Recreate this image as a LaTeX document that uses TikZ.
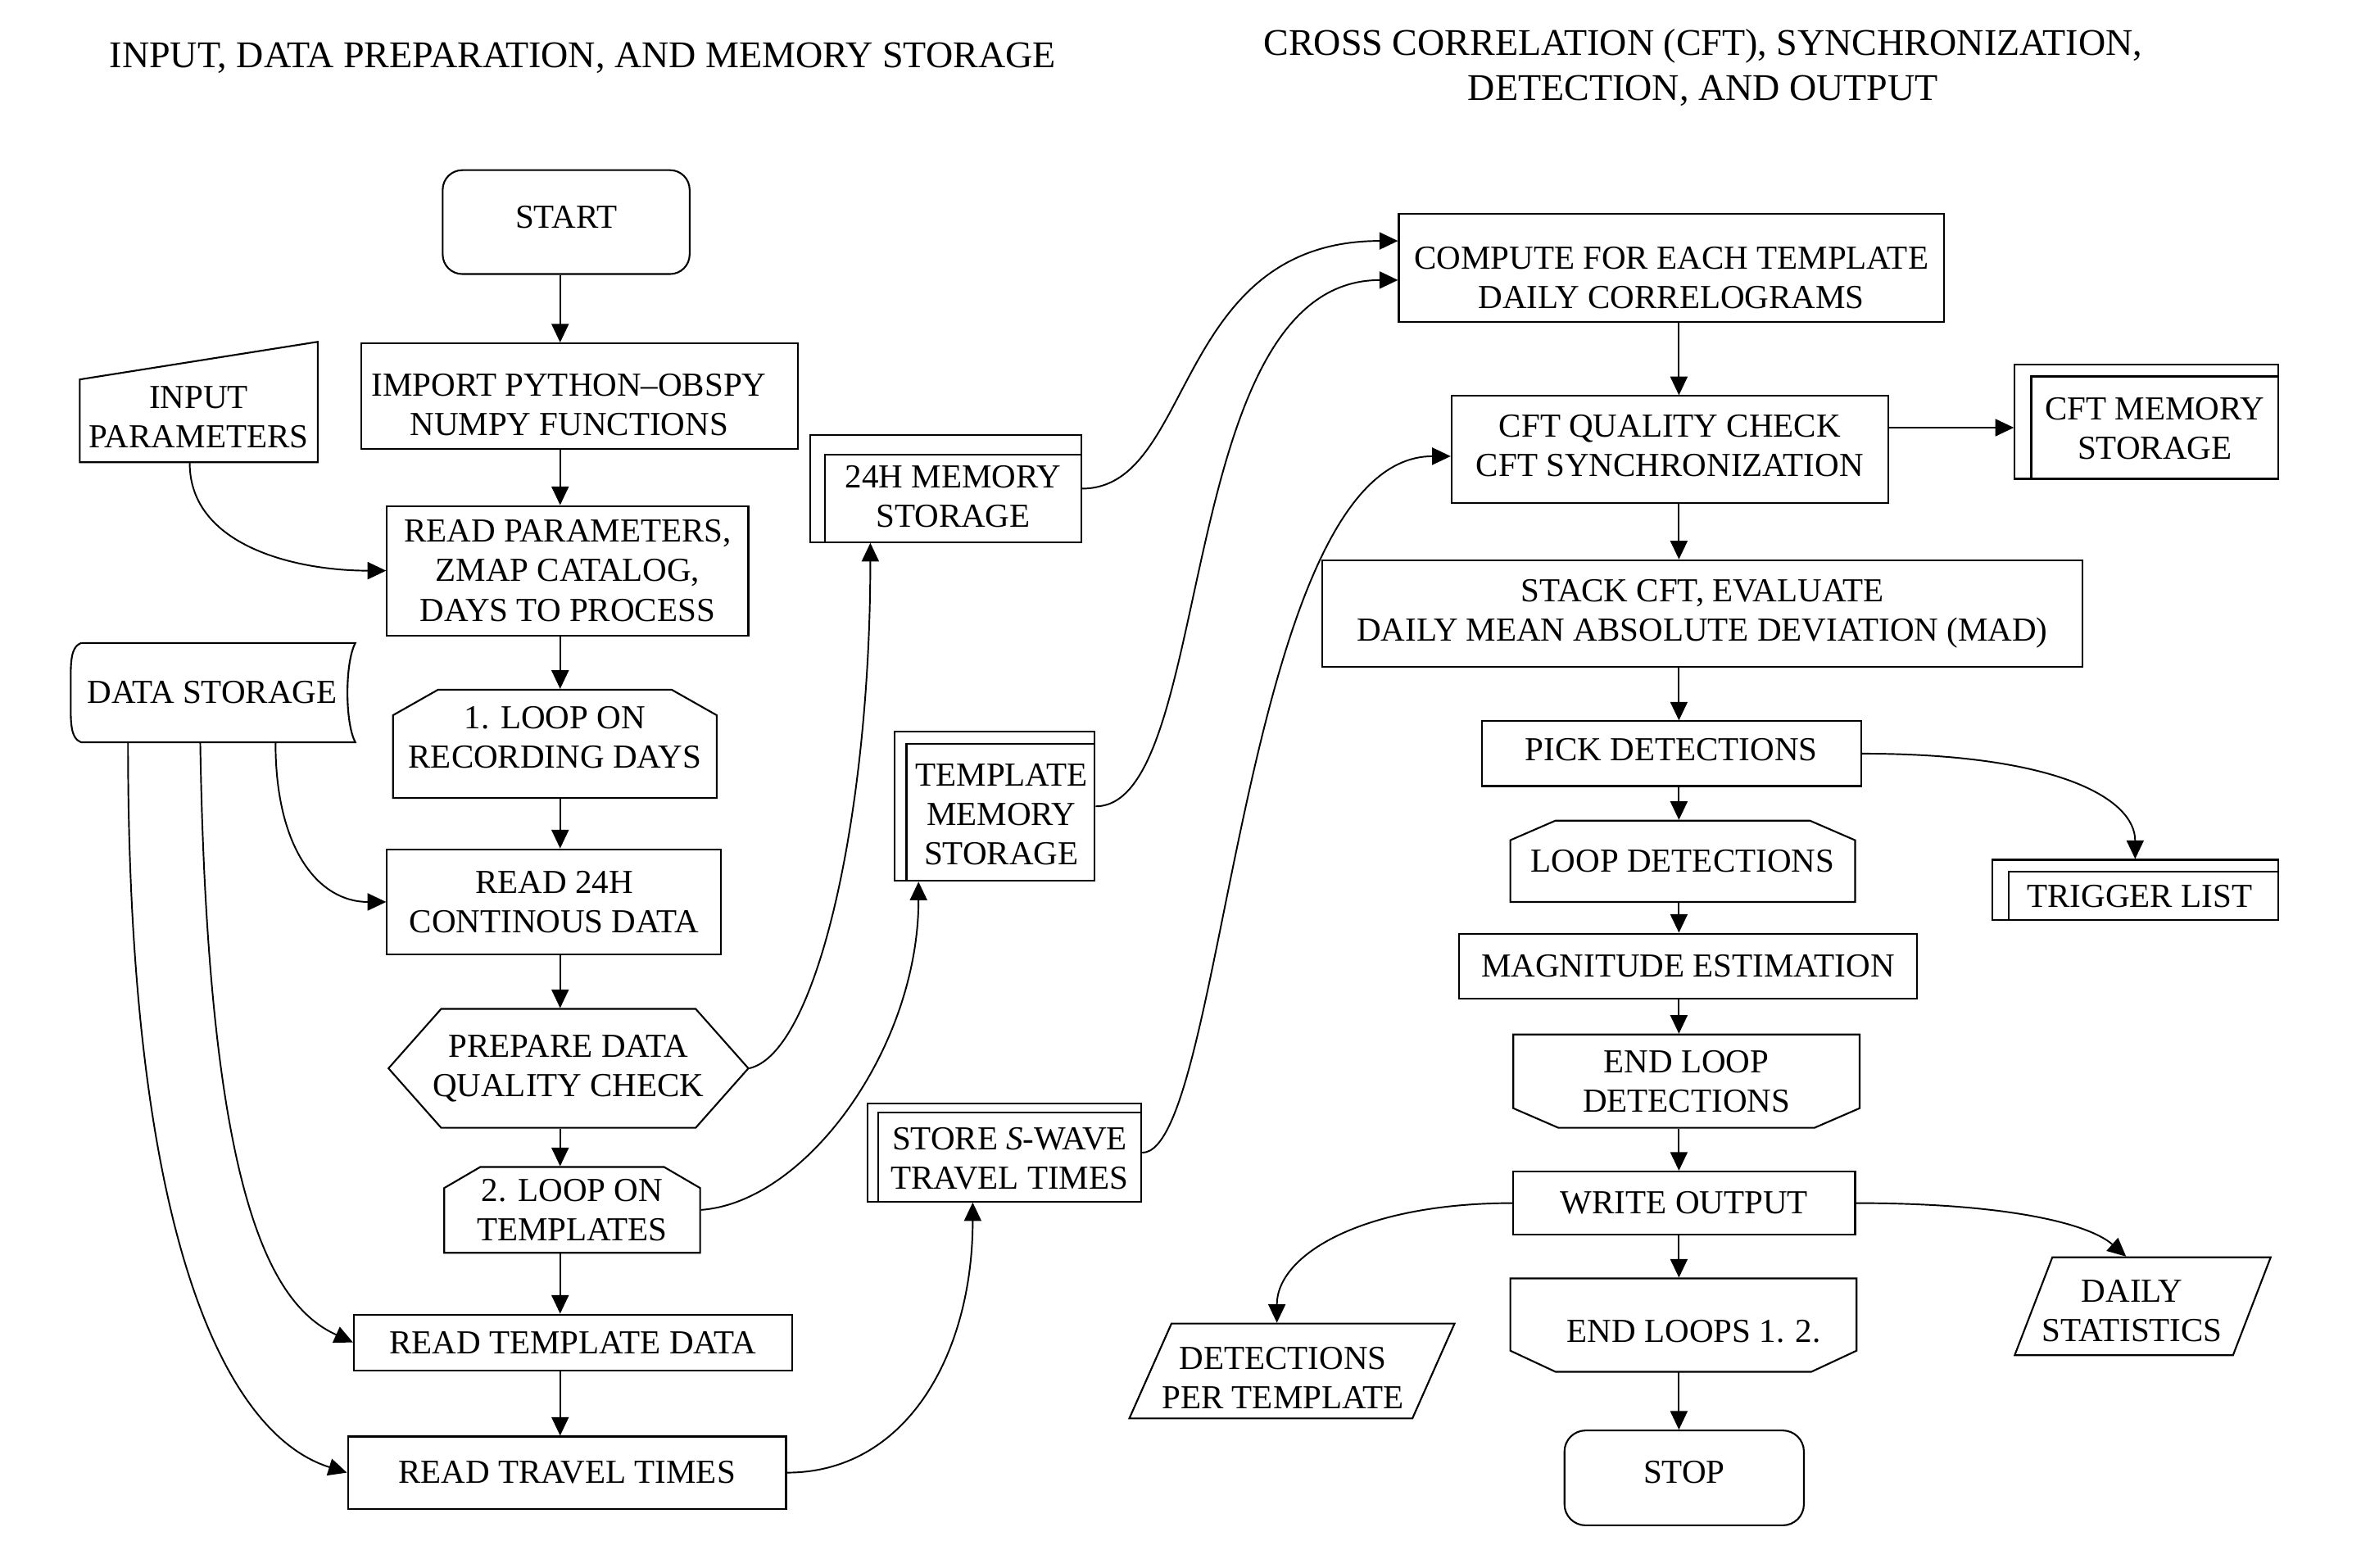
\documentclass[tikz,border=0pt]{standalone}
\usepackage{fontspec}
\setmainfont{Liberation Serif}
\usetikzlibrary{arrows.meta,calc}
\newcommand{\dd}[1]{#1*0.02cm}
\begin{document}
\begin{tikzpicture}[x=0.02cm,y=-0.02cm, line width=0.6pt,
  lbl/.style={align=center, inner sep=0pt, font=\fontsize{12.7}{14.9}\selectfont},
  bx/.style={lbl, draw, line width=0.65pt},
  shp/.style={draw, line width=0.65pt},
  arr/.style={-{Triangle[length=7pt,width=6.5pt]}, line width=0.6pt},
  ttl/.style={align=center, inner sep=0pt, font=\fontsize{14.25}{17}\selectfont}]
\useasboundingbox (0,0) rectangle (1568,1041);

% titles
\node[ttl] (t1) at (387,38.5) {INPUT, DATA PREPARATION, AND MEMORY STORAGE};
\node[ttl] (t2) at (1131,45) {CROSS CORRELATION (CFT), SYNCHRONIZATION,\\DETECTION, AND OUTPUT};

% left column
\node[bx, minimum width=\dd{164}, minimum height=\dd{69}, rounded corners=0.26cm] (start) at (376,147.5) {};
\node[lbl] (startt) at (376,144.5) {START};
\node[bx, minimum width=\dd{290}, minimum height=\dd{70}] (imp) at (385,263) {};
\node[lbl] (impt) at (378,269) {IMPORT PYTHON--OBSPY\\NUMPY FUNCTIONS};
\node[lbl, minimum width=\dd{158}, minimum height=\dd{60}] (inp) at (132,277) {INPUT\\PARAMETERS};
\draw[shp] (53,252) -- (211,227) -- (211,307) -- (53,307) -- cycle;
\node[bx, minimum width=\dd{240}, minimum height=\dd{86}] (rp) at (377,379) {READ PARAMETERS,\\ZMAP CATALOG,\\DAYS TO PROCESS};
\node[lbl, minimum width=\dd{189}, minimum height=\dd{66}] (ds) at (141,460) {DATA STORAGE};
\draw[shp] (54,427) -- (236,427) .. controls (229,440) and (229,480) .. (236,493) -- (54,493)
  .. controls (46,490) and (47,478) .. (47,460) .. controls (47,442) and (46,430) .. (54,427);
\node[lbl, minimum width=\dd{215}, minimum height=\dd{72}] (l1) at (368.5,494) {};
\draw[shp] (261,475) -- (291,458) -- (446,458) -- (476,475) -- (476,530) -- (261,530) -- cycle;
\node[lbl] (l1t) at (368.5,489.5) {1. LOOP ON\\RECORDING DAYS};
\node[bx, minimum width=\dd{222}, minimum height=\dd{70}] (rd24) at (368,599) {READ 24H\\CONTINOUS DATA};
\node[lbl, minimum width=\dd{239}, minimum height=\dd{79}] (prep) at (377.5,709.5) {PREPARE DATA\\QUALITY CHECK};
\draw[shp] (258,709.5) -- (293,670) -- (462,670) -- (497,709.5) -- (462,749) -- (293,749) -- cycle;
\node[lbl, minimum width=\dd{170}, minimum height=\dd{57}] (l2) at (380,803.5) {2. LOOP ON\\TEMPLATES};
\draw[shp] (295,789) -- (319,775) -- (441,775) -- (465,789) -- (465,832) -- (295,832) -- cycle;
\node[bx, minimum width=\dd{291}, minimum height=\dd{37}] (rtd) at (380.5,891.5) {READ TEMPLATE DATA};
\node[bx, minimum width=\dd{291}, minimum height=\dd{48}] (rtt) at (376.5,978) {READ TRAVEL TIMES};

% memory storages
\node[bx, minimum width=\dd{180}, minimum height=\dd{71}] (m24) at (628,324.5) {};
\draw[shp] (548,360) -- (548,302) -- (718,302);
\node[lbl] (m24t) at (633,330) {24H MEMORY\\STORAGE};
\node[bx, minimum width=\dd{133}, minimum height=\dd{99}] (tm) at (660.5,535.5) {};
\draw[shp] (602,585) -- (602,494) -- (727,494);
\node[lbl] (tmt) at (665,541) {TEMPLATE\\MEMORY\\STORAGE};
\node[bx, minimum width=\dd{182}, minimum height=\dd{65}] (sw) at (667,765.5) {};
\draw[shp] (583,798) -- (583,739) -- (758,739);
\node[lbl] (swt) at (670.5,769.5) {STORE \textit{S}-WAVE\\TRAVEL TIMES};

% right column
\node[bx, minimum width=\dd{362}, minimum height=\dd{72}] (comp) at (1110,178) {};
\node[lbl] (compt) at (1110,184.5) {COMPUTE FOR EACH TEMPLATE\\DAILY CORRELOGRAMS};
\node[bx, minimum width=\dd{290}, minimum height=\dd{71}] (cft) at (1109,298.5) {};
\node[lbl] (cftt) at (1109,296) {CFT QUALITY CHECK\\CFT SYNCHRONIZATION};
\node[bx, minimum width=\dd{175}, minimum height=\dd{76}] (cm) at (1425.5,280) {};
\draw[shp] (1349,318) -- (1349,250) -- (1513,250);
\node[lbl] (cmt) at (1431,284.5) {CFT MEMORY\\STORAGE};
\node[bx, minimum width=\dd{505}, minimum height=\dd{71}] (stk) at (1130.5,407.5) {STACK CFT, EVALUATE\\DAILY MEAN ABSOLUTE DEVIATION (MAD)};
\node[bx, minimum width=\dd{252}, minimum height=\dd{43}] (pick) at (1110,500.5) {};
\node[lbl] (pickt) at (1110,498) {PICK DETECTIONS};
\node[bx, minimum width=\dd{190}, minimum height=\dd{40}] (trg) at (1418,591) {};
\draw[shp] (1334,611) -- (1334,579) -- (1513,579);
\node[lbl] (trgt) at (1421,595) {TRIGGER LIST};
\node[lbl, minimum width=\dd{229}, minimum height=\dd{54}] (ld) at (1117.5,572) {LOOP DETECTIONS};
\draw[shp] (1003,558) -- (1033,545) -- (1202,545) -- (1232,558) -- (1232,599) -- (1003,599) -- cycle;
\node[bx, minimum width=\dd{304}, minimum height=\dd{43}] (mag) at (1121,641.5) {MAGNITUDE ESTIMATION};
\node[lbl, minimum width=\dd{230}, minimum height=\dd{62}] (eld) at (1120,718) {END LOOP\\DETECTIONS};
\draw[shp] (1005,687) -- (1235,687) -- (1235,736) -- (1205,749) -- (1035,749) -- (1005,736) -- cycle;
\node[bx, minimum width=\dd{227}, minimum height=\dd{42}] (wo) at (1118.5,799) {WRITE OUTPUT};
\node[lbl, minimum width=\dd{230}, minimum height=\dd{62}] (el) at (1118,880) {};
\draw[shp] (1003,849) -- (1233,849) -- (1233,897) -- (1203,911) -- (1033,911) -- (1003,897) -- cycle;
\node[lbl] (elt) at (1125,884) {END LOOPS 1. 2.};
\node[bx, minimum width=\dd{159}, minimum height=\dd{63}, rounded corners=0.28cm] (stop) at (1118.5,981.5) {};
\node[lbl] (stopt) at (1118.5,977.5) {STOP};
\node[lbl, minimum height=\dd{72}] (det) at (852,915) {DETECTIONS\\PER TEMPLATE};
\draw[shp] (778,879) -- (966,879) -- (938,942) -- (750,942) -- cycle;
\node[lbl, minimum height=\dd{71}] (dly) at (1416,870.5) {DAILY\\STATISTICS};
\draw[shp] (1363,835) -- (1508,835) -- (1483,900) -- (1338,900) -- cycle;

% straight connectors
\coordinate (sp) at (372,0);
\coordinate (sr) at (1115,0);
\foreach \a/\b in {start/imp, imp/rp, rp/l1, l1/rd24, rd24/prep, prep/l2, l2/rtd, rtd/rtt}
  \draw[arr] (\a.south -| sp) -- (\b.north -| sp);
\foreach \a/\b in {comp/cft, cft/stk, stk/pick, pick/ld, ld/mag, mag/eld, eld/wo, wo/el, el/stop}
  \draw[arr] (\a.south -| sr) -- (\b.north -| sr);
\draw[arr] ([yshift=0.29cm]cft.east) -- ([yshift=0.29cm]cft.east -| cm.west);

% curved connectors
\draw[arr] ([xshift=-0.12cm]inp.south) .. controls +(0,55) and +(-60,0) .. (rp.west);
\draw[arr] ([xshift=0.84cm]ds.south) .. controls +(0,70) and +(-45,0) .. (rd24.west);
\draw[arr] ([xshift=-0.16cm]ds.south) .. controls +(5,300) and +(-55,-25) .. (rtd.west);
\draw[arr] ([xshift=-1.12cm]ds.south) .. controls +(0,330) and +(-80,-25) .. (rtt.west);
\draw[arr] (prep.east) .. controls +(45,-10) and +(0,180) .. ([xshift=-1cm]m24.south);
\draw[arr] (l2.east) .. controls +(70,-5) and +(0,110) .. ([xshift=-1.01cm]tm.south);
\draw[arr] (rtt.east) .. controls +(80,0) and +(0,100) .. ([xshift=-0.42cm]sw.south);
\draw[arr] (m24.east) .. controls +(75,0) and +(-150,0) .. ([yshift=0.36cm]comp.west);
\draw[arr] (tm.east) .. controls +(80,0) and +(-150,0) .. ([yshift=-0.16cm]comp.west);
\draw[arr] (sw.east) .. controls +(55,0) and +(-140,0) .. ([yshift=-0.09cm]cft.west);
\draw[arr] (pick.east) .. controls +(130,0) and +(0,-40) .. (trg.north);
\draw[arr] (wo.west) .. controls +(-100,0) and +(0,-45) .. ([xshift=-0.08cm]det.north);
\draw[arr] (wo.east) .. controls +(100,0) and +(-25,-22) .. ([xshift=-0.08cm]dly.north);
\end{tikzpicture}
\end{document}
